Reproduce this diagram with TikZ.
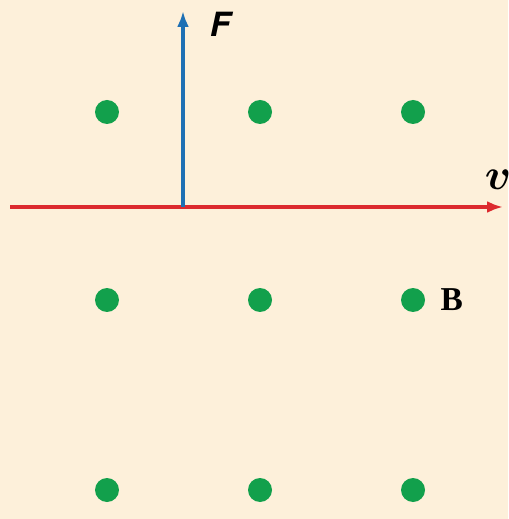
\documentclass[tikz,border=0pt]{standalone}
\usepackage{fontspec}
\usepackage{amsmath,bm}
\newfontfamily\heros{TeX Gyre Heros}
\newfontfamily\timesf{Liberation Serif}
\usetikzlibrary{arrows.meta,positioning}
\definecolor{bgcream}{HTML}{FDF0DA}
\definecolor{fieldgreen}{HTML}{12A04C}
\definecolor{vred}{HTML}{DC2A2E}
\definecolor{fblue}{HTML}{1E70B4}

\begin{document}
\begin{tikzpicture}[x=0.02cm, y=-0.02cm,
    dot/.style={circle, fill=fieldgreen, minimum size=0.48cm, inner sep=0pt},
    vec/.style={line width=0.085cm, -{Latex[length=0.32cm, width=0.24cm]}}]
    % background
    \fill[bgcream] (0, 0) rectangle (508, 519);
    \useasboundingbox (0, 0) rectangle (508, 519);

    % field dots
    \foreach \i/\x in {1/107, 2/260, 3/413}
        \foreach \j/\y in {1/112, 2/300, 3/490}
            \node[dot] (d\i\j) at (\x, \y) {};
    \node[right=0.18cm of d32, font=\fontsize{19}{19}\selectfont\timesf\bfseries] (lblB) {B};

    % velocity
    \coordinate (vstart) at (10, 207);
    \coordinate (vend) at (503, 207);
    \draw[vec, vred] (vstart) -- (vend);
    \node[font=\fontsize{24}{24}\selectfont] (lblv) at (498, 180) {$\bm{v}$};

    % force
    \coordinate (ffoot) at (183, 207);
    \coordinate (ftip) at (183, 11);
    \draw[vec, fblue] (ffoot) -- (ftip);
    \node[font=\fontsize{19}{19}\selectfont\heros\bfseries\itshape] (lblF) at (220, 24) {F};
\end{tikzpicture}
\end{document}
